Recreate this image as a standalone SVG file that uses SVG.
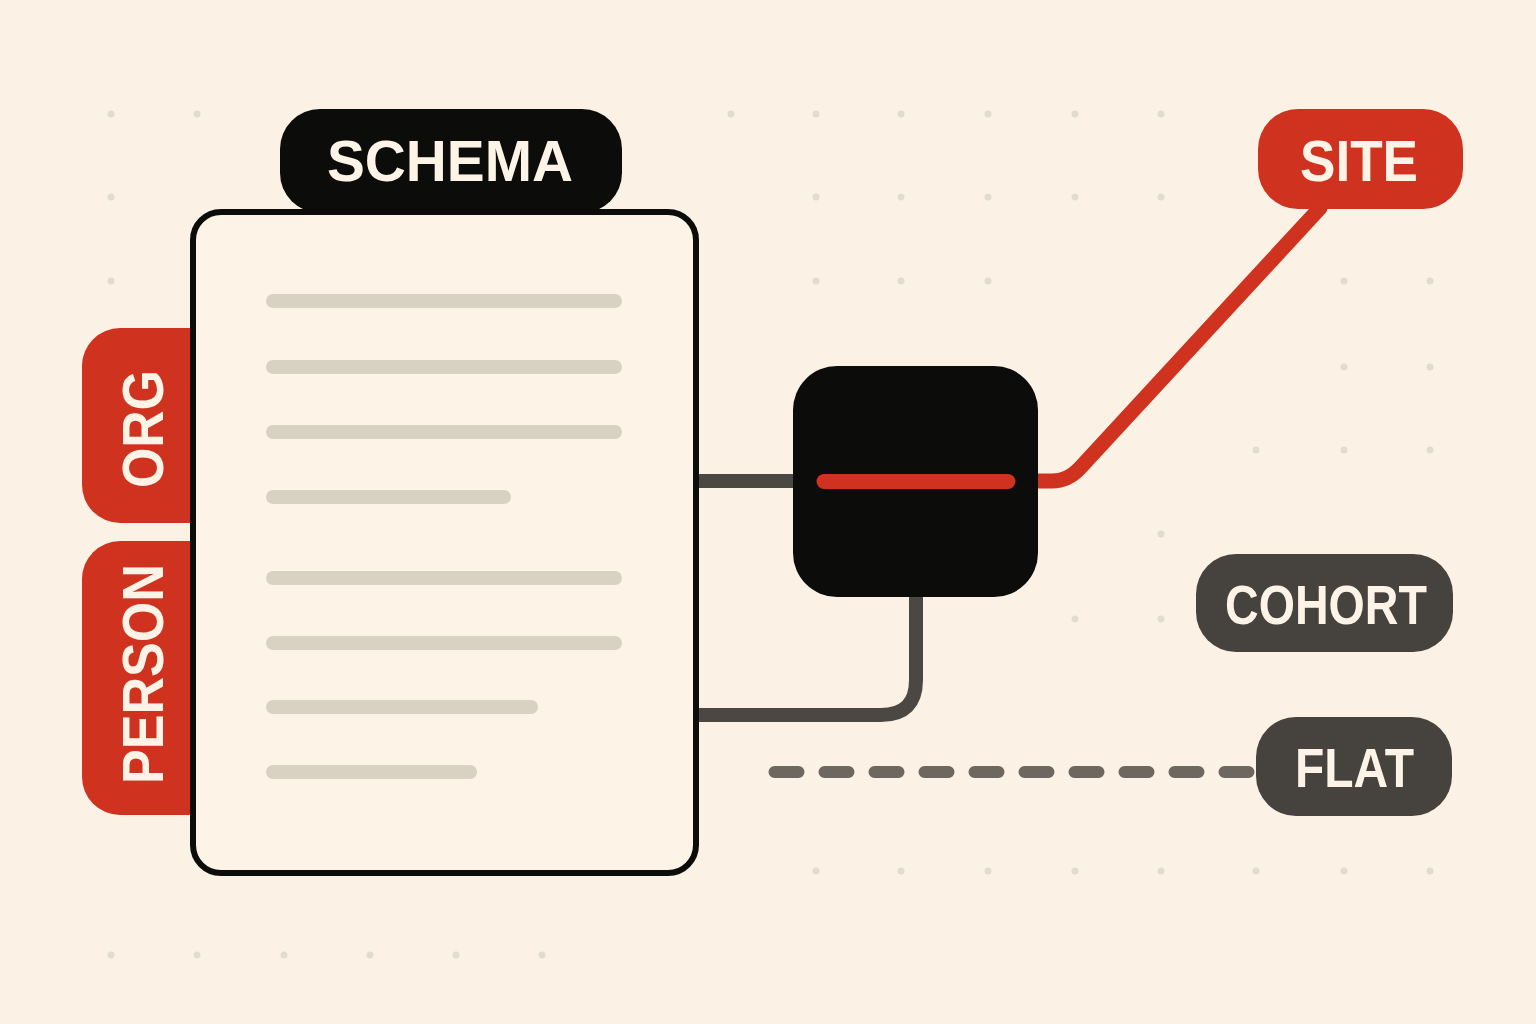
<svg xmlns="http://www.w3.org/2000/svg" width="1536" height="1024" viewBox="0 0 1536 1024">
  <style>
    .dot { fill: #e2dbcf; }
    .bar { stroke: #d9d2c3; stroke-width: 14; stroke-linecap: round; fill: none; }
    .lbl { font-family: "Liberation Sans", Arial, sans-serif; font-weight: bold; fill: #fdf3e6; }
    .conn { fill: none; stroke-linecap: round; stroke-linejoin: round; }
  </style>
  <rect x="0" y="0" width="1536" height="1024" fill="#fbf2e5"/>
  <g id="grid">
    <circle class="dot" cx="111" cy="114" r="3.5"/><circle class="dot" cx="197" cy="114" r="3.5"/>
    <circle class="dot" cx="731" cy="114" r="3.5"/><circle class="dot" cx="816" cy="114" r="3.5"/>
    <circle class="dot" cx="901" cy="114" r="3.5"/><circle class="dot" cx="988" cy="114" r="3.5"/>
    <circle class="dot" cx="1075" cy="114" r="3.5"/><circle class="dot" cx="1161" cy="114" r="3.5"/>
    <circle class="dot" cx="111" cy="197" r="3.5"/><circle class="dot" cx="816" cy="197" r="3.5"/>
    <circle class="dot" cx="901" cy="197" r="3.5"/><circle class="dot" cx="988" cy="197" r="3.5"/>
    <circle class="dot" cx="1075" cy="197" r="3.5"/><circle class="dot" cx="1161" cy="197" r="3.5"/>
    <circle class="dot" cx="111" cy="281" r="3.5"/><circle class="dot" cx="816" cy="281" r="3.5"/>
    <circle class="dot" cx="901" cy="281" r="3.5"/><circle class="dot" cx="988" cy="281" r="3.5"/>
    <circle class="dot" cx="1344" cy="281" r="3.5"/><circle class="dot" cx="1430" cy="281" r="3.5"/>
    <circle class="dot" cx="1344" cy="367" r="3.5"/><circle class="dot" cx="1430" cy="367" r="3.5"/>
    <circle class="dot" cx="1256" cy="450" r="3.5"/><circle class="dot" cx="1344" cy="450" r="3.5"/>
    <circle class="dot" cx="1430" cy="450" r="3.5"/>
    <circle class="dot" cx="1161" cy="534" r="3.5"/>
    <circle class="dot" cx="1075" cy="619" r="3.5"/><circle class="dot" cx="1161" cy="619" r="3.5"/>
    <circle class="dot" cx="816" cy="871" r="3.5"/><circle class="dot" cx="901" cy="871" r="3.5"/>
    <circle class="dot" cx="988" cy="871" r="3.5"/><circle class="dot" cx="1075" cy="871" r="3.5"/>
    <circle class="dot" cx="1161" cy="871" r="3.5"/><circle class="dot" cx="1256" cy="871" r="3.5"/>
    <circle class="dot" cx="1344" cy="871" r="3.5"/><circle class="dot" cx="1430" cy="871" r="3.5"/>
    <circle class="dot" cx="111" cy="955" r="3.5"/><circle class="dot" cx="197" cy="955" r="3.5"/>
    <circle class="dot" cx="284" cy="955" r="3.5"/><circle class="dot" cx="370" cy="955" r="3.5"/>
    <circle class="dot" cx="456" cy="955" r="3.5"/><circle class="dot" cx="542" cy="955" r="3.5"/>
  </g>
  <g id="connectors">
    <path class="conn" d="M 690 481 L 800 481" stroke="#4b4742" stroke-width="14"/>
    <path class="conn" d="M 916 590 L 916 680 Q 916 715 881 715 L 690 715" stroke="#4b4742" stroke-width="14"/>
    <path class="conn" d="M 1000 481 L 1052 481 Q 1068 481 1080 468 L 1320 208" stroke="#cf321e" stroke-width="15"/>
    <path d="M 774.5 772 L 1262 772" fill="none" stroke="#6d675f" stroke-width="12" stroke-linecap="round" stroke-dasharray="24 26"/>
  </g>
  <g id="org">
    <rect x="82" y="328" width="150" height="195" rx="38" fill="#cf321e"/>
    <text class="lbl" font-size="58" text-anchor="middle" textLength="118" lengthAdjust="spacingAndGlyphs" transform="translate(163,429) rotate(-90)">ORG</text>
  </g>
  <g id="person">
    <rect x="82" y="541" width="150" height="274" rx="38" fill="#cf321e"/>
    <text class="lbl" font-size="58" text-anchor="middle" textLength="220" lengthAdjust="spacingAndGlyphs" transform="translate(163,674) rotate(-90)">PERSON</text>
  </g>
  <g id="schema-card">
    <rect x="193" y="212" width="503" height="661" rx="28" fill="#fdf3e7" stroke="#0c0d0b" stroke-width="6"/>
    <line class="bar" x1="273" y1="301" x2="615" y2="301"/>
    <line class="bar" x1="273" y1="367" x2="615" y2="367"/>
    <line class="bar" x1="273" y1="432" x2="615" y2="432"/>
    <line class="bar" x1="273" y1="497" x2="504" y2="497"/>
    <line class="bar" x1="273" y1="578" x2="615" y2="578"/>
    <line class="bar" x1="273" y1="643" x2="615" y2="643"/>
    <line class="bar" x1="273" y1="707" x2="531" y2="707"/>
    <line class="bar" x1="273" y1="772" x2="470" y2="772"/>
  </g>
  <g id="schema">
    <rect x="280" y="109" width="342" height="104" rx="40" fill="#0c0d0b"/>
    <text class="lbl" x="450" y="181" font-size="57" text-anchor="middle" textLength="246" lengthAdjust="spacingAndGlyphs">SCHEMA</text>
  </g>
  <g id="hub">
    <rect x="793" y="366" width="245" height="231" rx="44" fill="#0c0d0b"/>
    <line x1="824" y1="481.5" x2="1008" y2="481.5" stroke="#cf321e" stroke-width="15" stroke-linecap="round"/>
  </g>
  <g id="site">
    <rect x="1258" y="109" width="205" height="100" rx="40" fill="#cf321e"/>
    <text class="lbl" x="1359" y="181" font-size="57" text-anchor="middle" textLength="118" lengthAdjust="spacingAndGlyphs">SITE</text>
  </g>
  <g id="cohort">
    <rect x="1196" y="554" width="257" height="98" rx="40" fill="#46423d"/>
    <text class="lbl" x="1326" y="624" font-size="56" text-anchor="middle" textLength="202" lengthAdjust="spacingAndGlyphs">COHORT</text>
  </g>
  <g id="flat">
    <rect x="1256" y="717" width="196" height="99" rx="40" fill="#46423d"/>
    <text class="lbl" x="1354.5" y="787" font-size="56" text-anchor="middle" textLength="119" lengthAdjust="spacingAndGlyphs">FLAT</text>
  </g>
</svg>
